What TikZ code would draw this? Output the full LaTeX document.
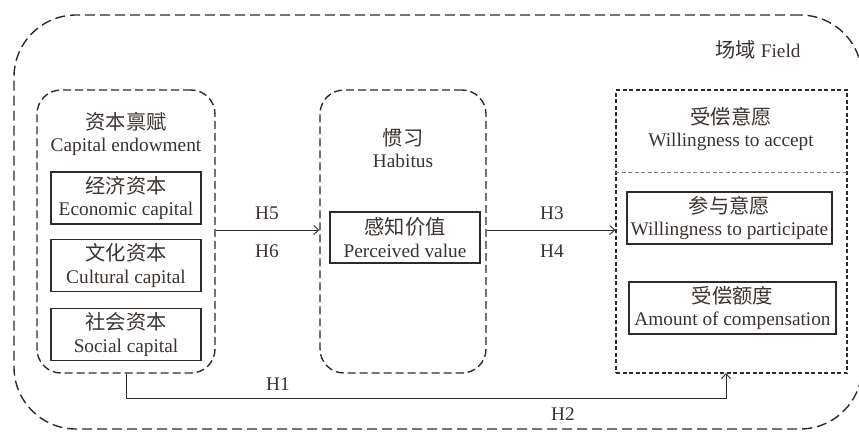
\documentclass[tikz,border=0pt]{standalone}
\usepackage{fontspec}
\setmainfont{Liberation Serif}
\newfontfamily\cjk[Scale=1.05]{Noto Sans CJK SC}
\usetikzlibrary{arrows.meta}
\definecolor{ink}{HTML}{3A3330}
\definecolor{ln}{HTML}{2E2A28}
\tikzset{
  lbl/.style={text=ink,font=\fontsize{19.3}{22.5}\selectfont,align=center,inner sep=0pt},
  group/.style={draw=ln,line width=1.4pt,dash pattern=on 8pt off 4pt,rounded corners=24pt,inner sep=0pt},
  rgroup/.style={draw=ln,line width=1.4pt,dash pattern=on 4pt off 2.5pt,inner sep=0pt},
  ibox/.style={draw=ln,line width=1.4pt,minimum height=52pt,inner sep=0pt,text=ink,font=\fontsize{19.3}{22.5}\selectfont,align=center},
  arr/.style={draw=ln,line width=0.9pt,-{Straight Barb[length=5pt,width=9pt]}},
}
\begin{document}
\begin{tikzpicture}[x=1pt,y=-1pt]
\useasboundingbox (0,0) rectangle (859,432);
% field
\node[draw=ln,line width=1.4pt,dash pattern=on 10pt off 5pt,rounded corners=62pt,minimum width=848pt,minimum height=414pt,inner sep=0pt] (field) at (438,222) {};
\node[lbl] (fieldt) at (758,50) {{\cjk 场域} Field};
% capital group
\node[group,minimum width=178pt,minimum height=283pt] (cap) at (126,231.5) {};
\node[lbl] (capt) at (126,134) {{\cjk 资本禀赋}\\Capital endowment};
\node[ibox,minimum width=150pt] (econ) at (126,198) {{\cjk 经济资本}\\Economic capital};
\node[ibox,minimum width=150pt] (cult) at (126,265.5) {{\cjk 文化资本}\\Cultural capital};
\node[ibox,minimum width=150pt] (soc) at (126,334.5) {{\cjk 社会资本}\\Social capital};
% habitus group
\node[group,minimum width=166pt,minimum height=283pt] (hab) at (403,231.5) {};
\node[lbl] (habt) at (403,148) {{\cjk 惯习}\\Habitus};
\node[ibox,minimum width=150pt,minimum height=51pt] (perc) at (405,237.5) {{\cjk 感知价值}\\Perceived value};
% willingness group
\node[rgroup,minimum width=231pt,minimum height=283pt] (wta) at (731.5,231.5) {};
\draw[draw=gray,line width=1pt,dash pattern=on 4pt off 2.5pt] (wta.west |- 0,172) -- (wta.east |- 0,172);
\node[lbl] (wtat) at (731,129) {{\cjk 受偿意愿}\\Willingness to accept};
\node[ibox,minimum width=205pt] (part) at (729.5,218) {{\cjk 参与意愿}\\Willingness to participate};
\node[ibox,minimum width=207pt] (amt) at (732.5,308) {{\cjk 受偿额度}\\Amount of compensation};
% arrows
\draw[arr] (cap.east |- 0,230) -- (hab.west |- 0,230);
\node[lbl] (h5) at (267,213) {H5};
\node[lbl] (h6) at (267,251) {H6};
\draw[arr] (hab.east |- 0,230) -- (wta.west |- 0,230);
\node[lbl] (h3) at (552,213) {H3};
\node[lbl] (h4) at (552,251) {H4};
\coordinate (c1) at (126,398);
\coordinate (c2) at (726,373);
\draw[arr] (cap.south) -- (c1) -| (c2);
\node[lbl] (h1) at (278,384) {H1};
\node[lbl] (h2) at (563,414) {H2};
\end{tikzpicture}
\end{document}
